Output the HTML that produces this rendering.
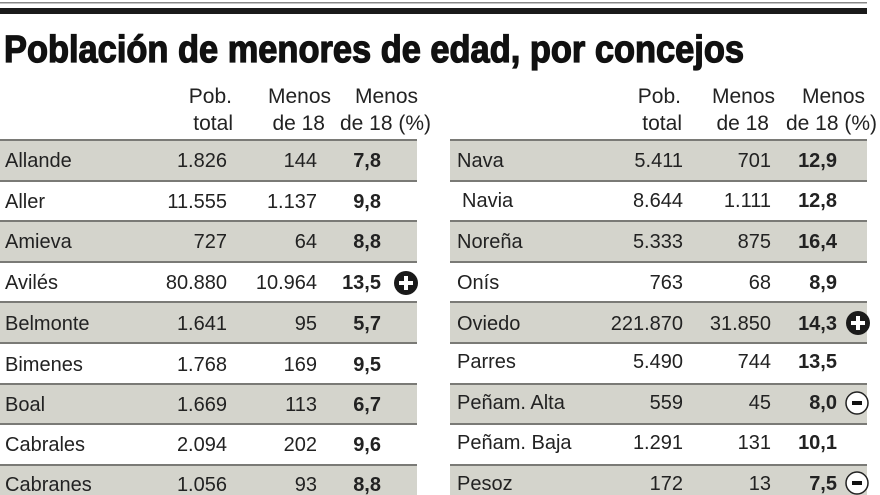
<!DOCTYPE html>
<html><head><meta charset="utf-8"><style>
html,body{margin:0;padding:0;background:#fff;width:880px;height:495px;overflow:hidden}
svg{display:block}
text{font-family:"Liberation Sans",sans-serif;fill:#222}
.h{font-size:21px;fill:#333}
.n{font-size:20px}
.b{font-size:20px;font-weight:bold;fill:#111}
</style></head><body>
<svg width="880" height="495" viewBox="0 0 880 495">
<rect x="0" y="2" width="867" height="1.5" fill="#888"/>
<rect x="0" y="8" width="867" height="6" fill="#1a1a1a"/>
<text x="4" y="62" font-size="38" font-weight="bold" textLength="740" lengthAdjust="spacingAndGlyphs" style="fill:#111;stroke:#111;stroke-width:1.3">Población de menores de edad, por concejos</text>
<g class="h" text-anchor="end">
<text x="232" y="103">Pob.</text><text x="233" y="130">total</text>
<text x="331" y="103">Menos</text><text x="325" y="130">de 18</text>
<text x="418" y="103">Menos</text><text x="431" y="130">de 18 (%)</text>
<text x="681" y="103">Pob.</text><text x="682" y="130">total</text>
<text x="775" y="103">Menos</text><text x="769" y="130">de 18</text>
<text x="865" y="103">Menos</text><text x="877" y="130">de 18 (%)</text>
</g>
<g id="shade" fill="#d4d4cc">
<rect x="0" y="140" width="417" height="40"/><rect x="0" y="221" width="417" height="40"/><rect x="0" y="302" width="417" height="41"/><rect x="0" y="384" width="417" height="40"/><rect x="0" y="465" width="417" height="30"/>
<rect x="450" y="140" width="417" height="40"/><rect x="450" y="221" width="417" height="40"/><rect x="450" y="302" width="417" height="41"/><rect x="450" y="384" width="417" height="40"/><rect x="450" y="465" width="417" height="30"/>
</g>
<g fill="#7a7a76">
<rect x="0" y="139" width="417" height="2"/><rect x="0" y="180" width="417" height="2"/><rect x="0" y="220" width="417" height="2"/><rect x="0" y="261" width="417" height="2"/><rect x="0" y="301" width="417" height="2"/><rect x="0" y="342" width="417" height="2"/><rect x="0" y="383" width="417" height="2"/><rect x="0" y="423" width="417" height="2"/><rect x="0" y="464" width="417" height="2"/>
<rect x="450" y="139" width="417" height="2"/><rect x="450" y="180" width="417" height="2"/><rect x="450" y="220" width="417" height="2"/><rect x="450" y="261" width="417" height="2"/><rect x="450" y="301" width="417" height="2"/><rect x="450" y="342" width="417" height="2"/><rect x="450" y="383" width="417" height="2"/><rect x="450" y="423" width="417" height="2"/><rect x="450" y="464" width="417" height="2"/>
</g>
<g class="n">
<text x="5" y="167">Allande</text><text x="5" y="208">Aller</text><text x="5" y="248">Amieva</text><text x="5" y="289">Avilés</text><text x="5" y="330">Belmonte</text><text x="5" y="371">Bimenes</text><text x="5" y="411">Boal</text><text x="5" y="451">Cabrales</text><text x="5" y="491">Cabranes</text>
<text x="457" y="167">Nava</text><text x="462" y="207">Navia</text><text x="457" y="248">Noreña</text><text x="457" y="289">Onís</text><text x="457" y="330">Oviedo</text><text x="457" y="368">Parres</text><text x="457" y="409">Peñam. Alta</text><text x="457" y="449">Peñam. Baja</text><text x="457" y="490">Pesoz</text>
</g>
<g class="n" text-anchor="end">
<text x="227" y="167">1.826</text><text x="227" y="208">11.555</text><text x="227" y="248">727</text><text x="227" y="289">80.880</text><text x="227" y="330">1.641</text><text x="227" y="371">1.768</text><text x="227" y="411">1.669</text><text x="227" y="451">2.094</text><text x="227" y="491">1.056</text>
<text x="317" y="167">144</text><text x="317" y="208">1.137</text><text x="317" y="248">64</text><text x="317" y="289">10.964</text><text x="317" y="330">95</text><text x="317" y="371">169</text><text x="317" y="411">113</text><text x="317" y="451">202</text><text x="317" y="491">93</text>
<text x="683" y="167">5.411</text><text x="683" y="207">8.644</text><text x="683" y="248">5.333</text><text x="683" y="289">763</text><text x="683" y="330">221.870</text><text x="683" y="368">5.490</text><text x="683" y="409">559</text><text x="683" y="449">1.291</text><text x="683" y="490">172</text>
<text x="771" y="167">701</text><text x="771" y="207">1.111</text><text x="771" y="248">875</text><text x="771" y="289">68</text><text x="771" y="330">31.850</text><text x="771" y="368">744</text><text x="771" y="409">45</text><text x="771" y="449">131</text><text x="771" y="490">13</text>
</g>
<g class="b" text-anchor="end">
<text x="381" y="167">7,8</text><text x="381" y="208">9,8</text><text x="381" y="248">8,8</text><text x="381" y="289">13,5</text><text x="381" y="330">5,7</text><text x="381" y="371">9,5</text><text x="381" y="411">6,7</text><text x="381" y="451">9,6</text><text x="381" y="491">8,8</text>
<text x="837" y="167">12,9</text><text x="837" y="207">12,8</text><text x="837" y="248">16,4</text><text x="837" y="289">8,9</text><text x="837" y="330">14,3</text><text x="837" y="368">13,5</text><text x="837" y="409">8,0</text><text x="837" y="449">10,1</text><text x="837" y="490">7,5</text>
</g>
<g>
<circle cx="406" cy="283" r="12" fill="#1a1a1a"/><rect x="399" y="281" width="14" height="4" fill="#fff"/><rect x="404" y="276" width="4" height="14" fill="#fff"/>
<circle cx="858" cy="323" r="12" fill="#1a1a1a"/><rect x="851" y="321" width="14" height="4" fill="#fff"/><rect x="856" y="316" width="4" height="14" fill="#fff"/>
<circle cx="857" cy="403" r="11" fill="#fff" stroke="#222" stroke-width="1.5"/><rect x="852" y="401" width="10" height="4" fill="#111"/>
<circle cx="857" cy="483" r="11" fill="#fff" stroke="#222" stroke-width="1.5"/><rect x="852" y="481" width="10" height="4" fill="#111"/>
</g>
</svg>
</body></html>
